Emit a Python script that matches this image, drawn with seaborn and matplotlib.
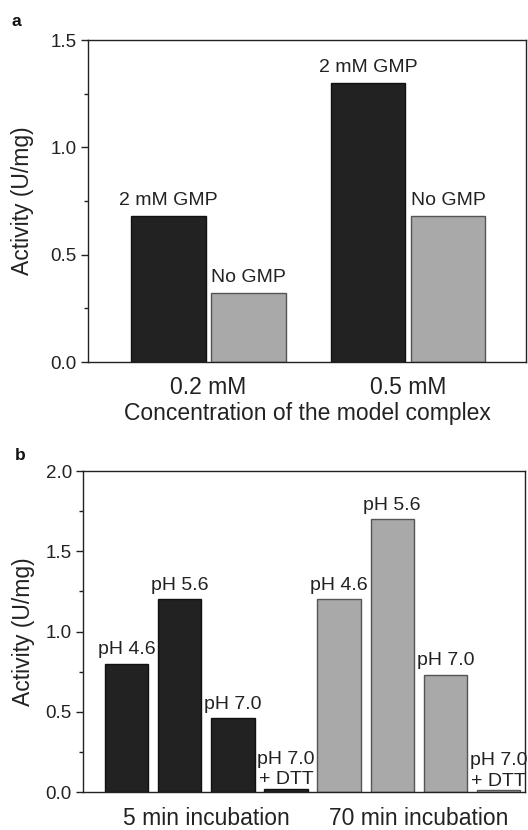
import matplotlib
matplotlib.use("Agg")
import matplotlib.pyplot as plt
import seaborn as sns
import pandas as pd
from matplotlib.ticker import MultipleLocator, FormatStrFormatter

# ---------------- data ----------------
# panel a
conc_labels = ["0.2 mM", "0.5 mM"]
gmp_conditions = ["2 mM GMP", "No GMP"]
act_with_gmp = [0.68, 1.30]
act_no_gmp = [0.32, 0.68]

# panel b
incubations = ["5 min incubation", "70 min incubation"]
ph_labels = ["pH 4.6", "pH 5.6", "pH 7.0", "pH 7.0\n+ DTT"]
act_5min = [0.80, 1.20, 0.46, 0.02]
act_70min = [1.20, 1.70, 0.73, 0.01]

dark = "#222222"
grey = "#a9a9a9"

sns.set_style("ticks")
plt.rcParams["font.family"] = ["Liberation Sans", "DejaVu Sans"]
plt.rcParams["axes.linewidth"] = 1.0
plt.rcParams["axes.edgecolor"] = "#222222"

fig = plt.figure(figsize=(5.28, 8.30), dpi=100)

W, H = 528.0, 830.0


def axes_px(left, top, right, bottom):
    return fig.add_axes([left / W, 1 - bottom / H, (right - left) / W, (bottom - top) / H])


def style_axes(ax, ymax):
    for s in ["top", "right", "left", "bottom"]:
        ax.spines[s].set_visible(True)
        ax.spines[s].set_color("#222222")
        ax.spines[s].set_linewidth(1.0)
    ax.set_ylim(0, ymax)
    ax.yaxis.set_major_locator(MultipleLocator(0.5))
    ax.yaxis.set_minor_locator(MultipleLocator(0.25))
    ax.yaxis.set_major_formatter(FormatStrFormatter("%.1f"))
    ax.tick_params(axis="y", which="major", length=5, width=1.0, pad=3,
                   labelsize=13.5, color="#222222", labelcolor="#222222",
                   left=True, right=False)
    ax.tick_params(axis="y", which="minor", length=3, width=1.0,
                   color="#222222", left=True, right=False)
    ax.tick_params(axis="x", which="both", length=0, pad=10,
                   labelsize=16.5, labelcolor="#222222")


# ---------------- panel a ----------------
df_a = pd.DataFrame({
    "conc": conc_labels * 2,
    "condition": [gmp_conditions[0]] * 2 + [gmp_conditions[1]] * 2,
    "activity": act_with_gmp + act_no_gmp,
})

ax1 = axes_px(88, 40, 526, 362)
sns.barplot(data=df_a, x="conc", y="activity", hue="condition",
            order=conc_labels, hue_order=gmp_conditions,
            palette=[dark, grey], saturation=1, width=0.8, gap=0.068,
            errorbar=None, legend=False, linewidth=1.0, ax=ax1)
edge_a = ["#111111", "#555555"]
for cont, ec, lab in zip(ax1.containers, edge_a, gmp_conditions):
    for p in cont:
        p.set_edgecolor(ec)
    ax1.bar_label(cont, labels=[lab] * len(cont), padding=5,
                  fontsize=14, color="#222222")

style_axes(ax1, 1.5)
ax1.set_xlim(-0.604, 1.591)
ax1.set_ylabel("Activity (U/mg)", fontsize=16.5, color="#222222")
ax1.yaxis.set_label_coords(-0.123, 0.5)
ax1.set_xlabel("Concentration of the model complex", fontsize=16.5,
               color="#222222", labelpad=2)

# ---------------- panel b ----------------
keys = [f"{inc}|{ph}" for inc in incubations for ph in ph_labels]
df_b = pd.DataFrame({
    "key": keys,
    "incubation": [incubations[0]] * 4 + [incubations[1]] * 4,
    "activity": act_5min + act_70min,
})

ax2 = axes_px(83, 471, 525, 792)
sns.barplot(data=df_b, x="key", y="activity", hue="incubation",
            order=keys, hue_order=incubations, dodge=False,
            palette=[dark, grey], saturation=1, width=0.815,
            errorbar=None, legend=False, linewidth=1.0, ax=ax2)
edge_b = ["#111111", "#555555"]
for cont, ec in zip(ax2.containers, edge_b):
    for p in cont:
        p.set_edgecolor(ec)
    main_labels = [lab if "DTT" not in lab else "" for lab in ph_labels]
    dtt_labels = [lab if "DTT" in lab else "" for lab in ph_labels]
    ax2.bar_label(cont, labels=main_labels, padding=4,
                  fontsize=14, color="#222222")
    ax2.bar_label(cont, labels=dtt_labels, padding=0.5,
                  fontsize=14, color="#222222", linespacing=1.25)

style_axes(ax2, 2.0)
ax2.set_xlim(-0.823, 7.5)
ax2.set_xticks([1.5, 5.5])
ax2.set_xticklabels(incubations)
ax2.tick_params(axis="x", pad=11)
ax2.set_xlabel("")
ax2.set_ylabel("Activity (U/mg)", fontsize=16.5, color="#222222")
ax2.yaxis.set_label_coords(-0.109, 0.5)

# panel letters
fig.text(12 / W, 1 - 26 / H, "a", fontsize=12.5, fontweight="bold",
         va="baseline", ha="left", color="#111111")
fig.text(15 / W, 1 - 460 / H, "b", fontsize=12.5, fontweight="bold",
         va="baseline", ha="left", color="#111111")

fig.savefig("out.png", dpi=100, facecolor="white")
